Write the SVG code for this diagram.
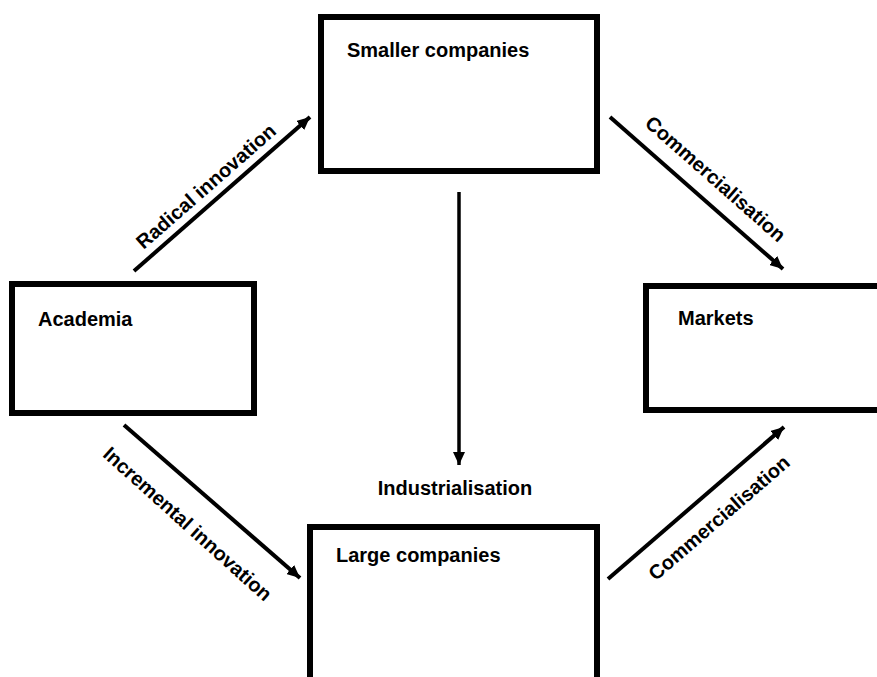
<svg xmlns="http://www.w3.org/2000/svg" width="877" height="677" viewBox="0 0 877 677">
<style>
.box{fill:#fff;stroke:#000;stroke-width:6}
.lbl{font-family:"Liberation Sans",Arial,sans-serif;font-weight:bold;font-size:20px;fill:#000}
.con{stroke:#000;stroke-width:4;fill:none}
</style>
<defs>
<marker id="ah" markerUnits="userSpaceOnUse" markerWidth="14" markerHeight="12" viewBox="0 0 14 12" refX="13" refY="6" orient="auto">
<path d="M0,0 L13,6 L0,12 Z" fill="#000"/>
</marker>
</defs>
<rect width="877" height="677" fill="#fff"/>
<g id="smaller">
<rect class="box" x="321" y="17" width="276" height="154"/>
<text class="lbl" x="347" y="57">Smaller companies</text>
</g>
<g id="academia">
<rect class="box" x="12" y="284" width="242" height="129"/>
<text class="lbl" x="38" y="326">Academia</text>
</g>
<g id="markets">
<rect class="box" x="646" y="286" width="260" height="124"/>
<text class="lbl" x="678" y="325">Markets</text>
</g>
<g id="large">
<rect class="box" x="310" y="527" width="287" height="180"/>
<text class="lbl" x="336" y="562">Large companies</text>
</g>
<g id="connectors">
<line class="con" x1="134" y1="271" x2="310" y2="117" marker-end="url(#ah)"/>
<line class="con" x1="610" y1="117" x2="783" y2="269" marker-end="url(#ah)"/>
<line class="con" x1="124" y1="425" x2="300" y2="578" marker-end="url(#ah)"/>
<line class="con" x1="608" y1="579" x2="784" y2="427" marker-end="url(#ah)"/>
<line class="con" style="stroke-width:3.5" x1="459" y1="192" x2="459" y2="465" marker-end="url(#ah)"/>
<text class="lbl" text-anchor="middle" transform="translate(210.5,191.5) rotate(-41.2)">Radical innovation</text>
<text class="lbl" text-anchor="middle" transform="translate(711,184) rotate(41.3)">Commercialisation</text>
<text class="lbl" text-anchor="middle" transform="translate(183,529) rotate(42)">Incremental innovation</text>
<text class="lbl" text-anchor="middle" transform="translate(723.5,523) rotate(-40.8)">Commercialisation</text>
<text class="lbl" text-anchor="middle" x="455" y="495">Industrialisation</text>
</g>
</svg>
